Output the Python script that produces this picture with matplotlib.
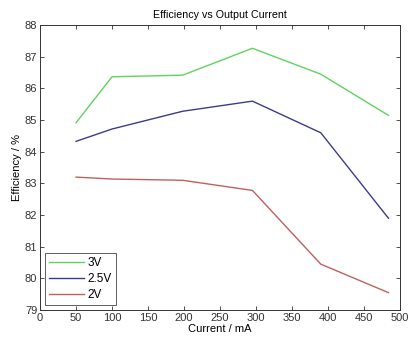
import matplotlib
matplotlib.use('Agg')
import matplotlib.pyplot as plt

# data
current = [50, 100, 198, 295, 390, 484]
eff_3v = [84.92, 86.37, 86.42, 87.27, 86.45, 85.15]
eff_25v = [84.33, 84.72, 85.28, 85.60, 84.60, 81.90]
eff_2v = [83.20, 83.14, 83.10, 82.78, 80.45, 79.55]

plt.rcParams['font.family'] = ['Liberation Sans', 'DejaVu Sans']
plt.rcParams['font.size'] = 8

fig = plt.figure(figsize=(4.09, 3.40), dpi=100)
ax = fig.add_axes([0.098, 0.088, 0.88, 0.838])

ax.plot(current, eff_3v, color='#5fd35f', lw=1.0, label='3V')
ax.plot(current, eff_25v, color='#3c3c8c', lw=1.0, label='2.5V')
ax.plot(current, eff_2v, color='#c06060', lw=1.0, label='2V')

ax.set_xlim(0, 500)
ax.set_ylim(79, 88)
ax.set_xticks(range(0, 501, 50))
ax.set_yticks(range(79, 89))
ax.tick_params(direction='in', top=True, right=True, length=3, width=0.6,
               colors='#333333', labelsize=8, pad=2)
for s in ax.spines.values():
    s.set_linewidth(0.7)
    s.set_color('#333333')

ax.set_title('Efficiency vs Output Current', fontsize=7.7, pad=5)
ax.set_xlabel('Current / mA', fontsize=8, labelpad=1)
ax.set_ylabel('Efficiency / %', fontsize=8, labelpad=2)

leg = ax.legend(loc='lower left', fancybox=False, edgecolor='#333333',
                fontsize=8.5, handlelength=3.0, borderaxespad=0.4,
                labelspacing=0.35, handletextpad=0.3, borderpad=0.35)
leg.get_frame().set_linewidth(0.7)

fig.savefig('out.png', dpi=100)
